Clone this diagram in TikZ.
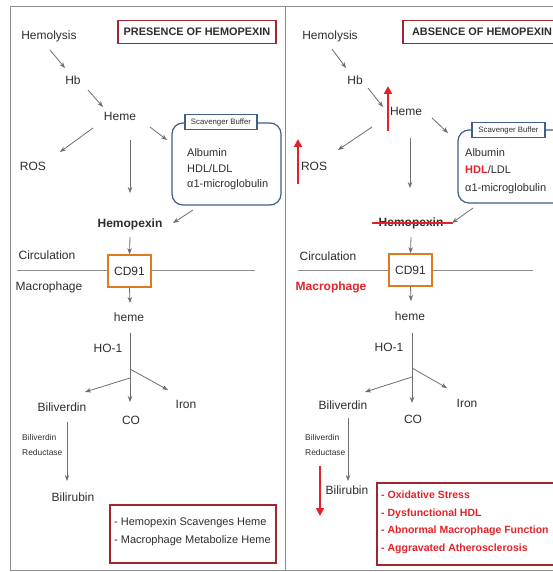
\documentclass[tikz,border=0pt]{standalone}
\usepackage{fontspec}
\setmainfont{Liberation Sans}
\usetikzlibrary{arrows.meta}
\definecolor{txt}{HTML}{2E2E2E}
\definecolor{agray}{HTML}{6E6E6E}
\definecolor{fgray}{HTML}{8C8C8C}
\definecolor{dred}{HTML}{A3262E}
\definecolor{bred}{HTML}{E2232A}
\definecolor{sblue}{HTML}{3F5E88}
\definecolor{orng}{HTML}{E07A1F}
\begin{document}
\begin{tikzpicture}[x=1pt,y=-1pt,
  lbl/.style={font=\fontsize{12}{14}\selectfont, text=txt, inner sep=0pt},
  lblb/.style={font=\bfseries\fontsize{12}{14}\selectfont, text=txt, inner sep=0pt},
  lblsm/.style={font=\fontsize{11}{14}\selectfont, text=txt, inner sep=0pt, anchor=base west},
  tiny/.style={font=\fontsize{8.4}{14.5}\selectfont, text=txt, inner sep=0pt, align=left, anchor=west},
  titlebox/.style={draw=dred, line width=1.4pt, fill=white, font=\bfseries\fontsize{10.9}{12}\selectfont, text=txt, minimum width=158pt, minimum height=23pt, inner sep=0pt},
  sbox/.style={draw=sblue, line width=1.2pt, rounded corners=11pt, inner sep=0pt},
  sbuf/.style={draw=sblue, line width=1.2pt, fill=white, font=\fontsize{7.8}{9}\selectfont, text=txt, minimum height=15pt, inner sep=0pt},
  cdbox/.style={draw=orng, line width=1.5pt, fill=white, font=\fontsize{12}{14}\selectfont, text=txt, minimum width=43pt, minimum height=32pt, inner sep=0pt},
  notebox/.style={draw=dred, line width=1.4pt, inner sep=0pt},
  arr/.style={draw=agray, line width=0.8pt, -{Stealth[length=6pt,width=4.5pt]}},
  redarr/.style={draw=bred, line width=2.6pt, -{Triangle[length=8pt,width=8pt]}},
  memb/.style={draw=fgray, line width=1pt}
]
\useasboundingbox (0,0) rectangle (553,572);
\clip (0,0) rectangle (553,572);
\fill[white] (0,0) rectangle (553,572);
% panel frames
\draw[fgray, line width=1pt] (10,7) rectangle (285,570);
\draw[fgray, line width=1pt] (285,7) rectangle (620,570);

%================ LEFT PANEL =================
\node[titlebox] (t1) at (197,32) {PRESENCE OF HEMOPEXIN};
\node[lbl] (hemolysis1) at (49,36) {Hemolysis};
\node[lbl] (hb1) at (73,80) {Hb};
\node[lbl] (heme1) at (120,116) {Heme};
\node[lbl] (ros1) at (33,166) {ROS};
\node[sbox, minimum width=109pt, minimum height=82pt] (sb1) at (226.5,164) {};
\node[sbuf, minimum width=72pt] (sl1) at (221,122) {Scavenger Buffer};
\node[lblsm] (alb1) at (187,157) {Albumin};
\node[lblsm] (hdl1) at (187,172) {HDL/LDL};
\node[lblsm] (mic1) at (187,187) {α1-microglobulin};
\node[lblb] (hpx1) at (130,224) {Hemopexin};
\coordinate (ml1) at (17,270);
\coordinate (mr1) at (255,270);
\draw[memb] (ml1) -- (mr1);
\node[cdbox] (cd1) at (129.5,271) {CD91};
\node[lbl] (circ1) at (47,255) {Circulation};
\node[lbl] (mac1) at (49,287) {Macrophage};
\node[lbl] (hm1) at (129,317) {heme};
\node[lbl] (ho1) at (108,348) {HO-1};
\node[lbl] (bv1) at (62,407) {Biliverdin};
\node[lbl] (co1) at (131,420) {CO};
\node[lbl] (fe1) at (186,404) {Iron};
\node[tiny] (br1) at (22,445) {Biliverdin\\Reductase};
\node[lbl] (bil1) at (73,497) {Bilirubin};
\node[notebox, minimum width=166pt, minimum height=58pt] (n1) at (193,534) {};
\node[font=\fontsize{11}{18}\selectfont, text=txt, inner sep=0pt, align=left, anchor=west] (n1t) at (114,532) {- Hemopexin Scavenges Heme\\- Macrophage Metabolize Heme};

% left arrows
\coordinate (a1s) at (50,50);   \coordinate (a1e) at (65,68);
\coordinate (a2s) at (88,90);   \coordinate (a2e) at (103,107);
\coordinate (a3s) at (93,128);  \coordinate (a3e) at (60,152);
\coordinate (a4s) at (150,127); \coordinate (a4e) at (167,140);
\coordinate (a5s) at (130,140); \coordinate (a5e) at (130,193);
\coordinate (a6s) at (193,210); \coordinate (a6e) at (173,223);
\coordinate (a7s) at (130,237);
\coordinate (a8e) at (130,303);
\coordinate (tr1) at (130,333); \coordinate (tr1e) at (130,402);
\coordinate (tr1r) at (130,369); \coordinate (tr1re) at (168,390);
\coordinate (tr1l) at (130,378); \coordinate (tr1le) at (85,392);
\coordinate (b1s) at (67,422);  \coordinate (b1e) at (67,481);
\draw[arr] (a1s) -- (a1e);
\draw[arr] (a2s) -- (a2e);
\draw[arr] (a3s) -- (a3e);
\draw[arr] (a4s) -- (a4e);
\draw[arr] (a5s) -- (a5e);
\draw[arr] (a6s) -- (a6e);
\draw[arr] (a7s) -- (cd1.north);
\draw[arr] (cd1.south) -- (a8e);
\draw[arr] (tr1) -- (tr1e);
\draw[arr] (tr1r) -- (tr1re);
\draw[arr] (tr1l) -- (tr1le);
\draw[arr] (b1s) -- (b1e);

%================ RIGHT PANEL =================
\node[titlebox] (t2) at (482,32) {ABSENCE OF HEMOPEXIN};
\node[lbl] (hemolysis2) at (330,36) {Hemolysis};
\node[lbl] (hb2) at (355,80) {Hb};
\node[lbl] (heme2) at (406,111) {Heme};
\node[lbl] (ros2) at (314,166) {ROS};
\node[sbox, minimum width=112pt, minimum height=73pt] (sb2) at (514,166.5) {};
\node[sbuf, minimum width=73pt] (sl2) at (508.5,130) {Scavenger Buffer};
\node[lblsm] (alb2) at (465,157) {Albumin};
\node[lblsm] (hdl2) at (465,174) {\textcolor{bred}{\bfseries HDL}/LDL};
\node[lblsm] (mic2) at (465,191) {α1-microglobulin};
\node[lblb] (hpx2) at (411,223) {Hemopexin};
\coordinate (sk2l) at (372,223); \coordinate (sk2r) at (453,223);
\draw[draw=bred, line width=1.8pt] (sk2l) -- (sk2r);
\coordinate (ml2) at (298,270);
\coordinate (mr2) at (533,270);
\draw[memb] (ml2) -- (mr2);
\node[cdbox] (cd2) at (410.5,270) {CD91};
\node[lbl] (circ2) at (328,256) {Circulation};
\node[lblb, text=bred] (mac2) at (331,287) {Macrophage};
\node[lbl] (hm2) at (410,316) {heme};
\node[lbl] (ho2) at (389,347) {HO-1};
\node[lbl] (bv2) at (343,405) {Biliverdin};
\node[lbl] (co2) at (413,419) {CO};
\node[lbl] (fe2) at (467,403) {Iron};
\node[tiny] (br2) at (305,445) {Biliverdin\\Reductase};
\node[lbl] (bil2) at (347,490) {Bilirubin};
\node[notebox, minimum width=223pt, minimum height=82pt] (n2) at (488.5,524) {};
\node[font=\bfseries\fontsize{10.5}{17.5}\selectfont, text=bred, inner sep=0pt, align=left, anchor=north west] (n2t) at (381,491) {- Oxidative Stress\\- Dysfunctional HDL\\- Abnormal Macrophage Function\\- Aggravated Atherosclerosis};

% red arrows
\coordinate (r1s) at (388,131); \coordinate (r1e) at (388,86);
\coordinate (r2s) at (298,184); \coordinate (r2e) at (298,139);
\coordinate (r3s) at (320,466); \coordinate (r3e) at (320,516);
\draw[redarr] (r1s) -- (r1e);
\draw[redarr] (r2s) -- (r2e);
\draw[redarr] (r3s) -- (r3e);

% right arrows
\coordinate (c1s) at (332,49);  \coordinate (c1e) at (346,68);
\coordinate (c2s) at (368,88);  \coordinate (c2e) at (383,107);
\coordinate (c3s) at (372,127); \coordinate (c3e) at (338,150);
\coordinate (c4s) at (432,118); \coordinate (c4e) at (448,133);
\coordinate (c5s) at (410,138); \coordinate (c5e) at (410,188);
\coordinate (c6s) at (473,208); \coordinate (c6e) at (452,223);
\coordinate (c7s) at (411,237);
\coordinate (c8e) at (411,301);
\coordinate (tr2) at (412,333); \coordinate (tr2e) at (412,403);
\coordinate (tr2r) at (412,368); \coordinate (tr2re) at (447,388);
\coordinate (tr2l) at (412,377); \coordinate (tr2le) at (365,392);
\coordinate (b2s) at (348,418); \coordinate (b2e) at (348,481);
\draw[arr] (c1s) -- (c1e);
\draw[arr] (c2s) -- (c2e);
\draw[arr] (c3s) -- (c3e);
\draw[arr] (c4s) -- (c4e);
\draw[arr] (c5s) -- (c5e);
\draw[arr] (c6s) -- (c6e);
\draw[arr] (c7s) -- (cd2.north);
\draw[arr] (cd2.south) -- (c8e);
\draw[arr] (tr2) -- (tr2e);
\draw[arr] (tr2r) -- (tr2re);
\draw[arr] (tr2l) -- (tr2le);
\draw[arr] (b2s) -- (b2e);
\end{tikzpicture}
\end{document}
